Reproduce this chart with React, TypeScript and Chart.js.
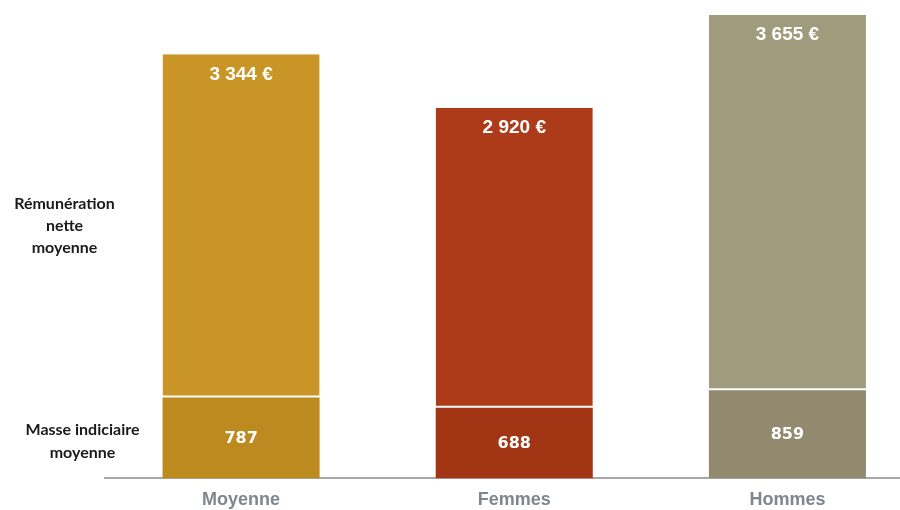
import React, { useEffect, useRef } from "react";
import { Chart, registerables } from "chart.js";

Chart.register(...registerables);

const categories = ["Moyenne", "Femmes", "Hommes"];
const masseIndiciaire = [787, 688, 859];
const remuneration = [3344, 2920, 3655];
const topColors = ["#C99527", "#AD3B19", "#A19B7D"];
const bottomColors = ["#BC8A1F", "#A23514", "#918A6F"];
const seriesNames = ["Masse indiciaire moyenne", "Rémunération nette moyenne"];
const leftLabelsTop = ["Rémunération", "nette", "moyenne"];
const leftLabelsBottom = ["Masse indiciaire", "moyenne"];

const fmt = (v: number) => {
  const s = String(v);
  return s.replace(/\B(?=(\d{3})+(?!\d))/g, " ");
};

const labelPlugin = {
  id: "labelPlugin",
  afterDatasetsDraw(chart: any) {
    const ctx = chart.ctx;
    const area = chart.chartArea;
    const y = chart.scales.y;
    ctx.save();
    ctx.fillStyle = "#ffffff";
    ctx.textAlign = "center";
    ctx.textBaseline = "middle";
    const m0 = chart.getDatasetMeta(0);
    ctx.font = "bold 16px 'DejaVu Sans'";
    m0.data.forEach((bar: any, i: number) => {
      ctx.fillText(fmt(masseIndiciaire[i]), bar.x, (bar.y + bar.base) / 2 + 1);
    });
    const m1 = chart.getDatasetMeta(1);
    ctx.font = "bold 19px 'Liberation Sans'";
    m1.data.forEach((bar: any, i: number) => {
      ctx.fillText(fmt(remuneration[i]) + " €", bar.x, bar.y + 20);
    });
    ctx.fillStyle = "#1a1a1a";
    ctx.font = "bold 16px Lato";
    const yTop = y.getPixelForValue(masseIndiciaire[0] + remuneration[0] / 2);
    leftLabelsTop.forEach((t, k) => {
      ctx.fillText(t, area.left - 40, yTop + (k - 1) * 22);
    });
    const yBot = y.getPixelForValue(masseIndiciaire[0] / 2);
    leftLabelsBottom.forEach((t, k) => {
      ctx.fillText(t, area.left - 22, yBot + 3 + (k - 0.5) * 23);
    });
    ctx.restore();
  },
};

export default function App() {
  const ref = useRef<HTMLCanvasElement>(null);
  useEffect(() => {
    if (!ref.current) return;
    const chart = new Chart(ref.current, {
      type: "bar",
      data: {
        labels: categories,
        datasets: [
          {
            label: seriesNames[0],
            data: masseIndiciaire,
            backgroundColor: bottomColors,
            borderWidth: 0,
            barPercentage: 0.575,
            categoryPercentage: 1,
          },
          {
            label: seriesNames[1],
            data: remuneration,
            backgroundColor: topColors,
            borderColor: "#ffffff",
            borderWidth: { top: 0, left: 0, right: 0, bottom: 2 },
            borderSkipped: false,
            barPercentage: 0.575,
            categoryPercentage: 1,
          },
        ],
      },
      options: {
        animation: false,
        responsive: false,
        maintainAspectRatio: false,
        layout: { padding: { left: 104.5, right: 0, top: 0, bottom: -12 } },
        plugins: {
          legend: { display: false },
          tooltip: { enabled: false },
        },
        scales: {
          x: {
            stacked: true,
            grid: { display: false, drawTicks: false },
            border: { display: true, color: "#A8A8A8", width: 2 },
            ticks: {
              padding: 11,
              color: "#80868E",
              font: { family: "'Liberation Sans'", size: 18, weight: "bold" },
            },
          },
          y: {
            stacked: true,
            display: false,
            min: 0,
            max: 4660,
          },
        },
      },
      plugins: [labelPlugin],
    });
    return () => chart.destroy();
  }, []);
  return (
    <div
      style={{
        position: "fixed",
        left: 0,
        top: 0,
        width: 900,
        height: 510,
        overflow: "hidden",
        background: "#fff",
      }}
    >
      <canvas ref={ref} width={924} height={510} style={{ width: 924, height: 510, display: "block" }} />
    </div>
  );
}
